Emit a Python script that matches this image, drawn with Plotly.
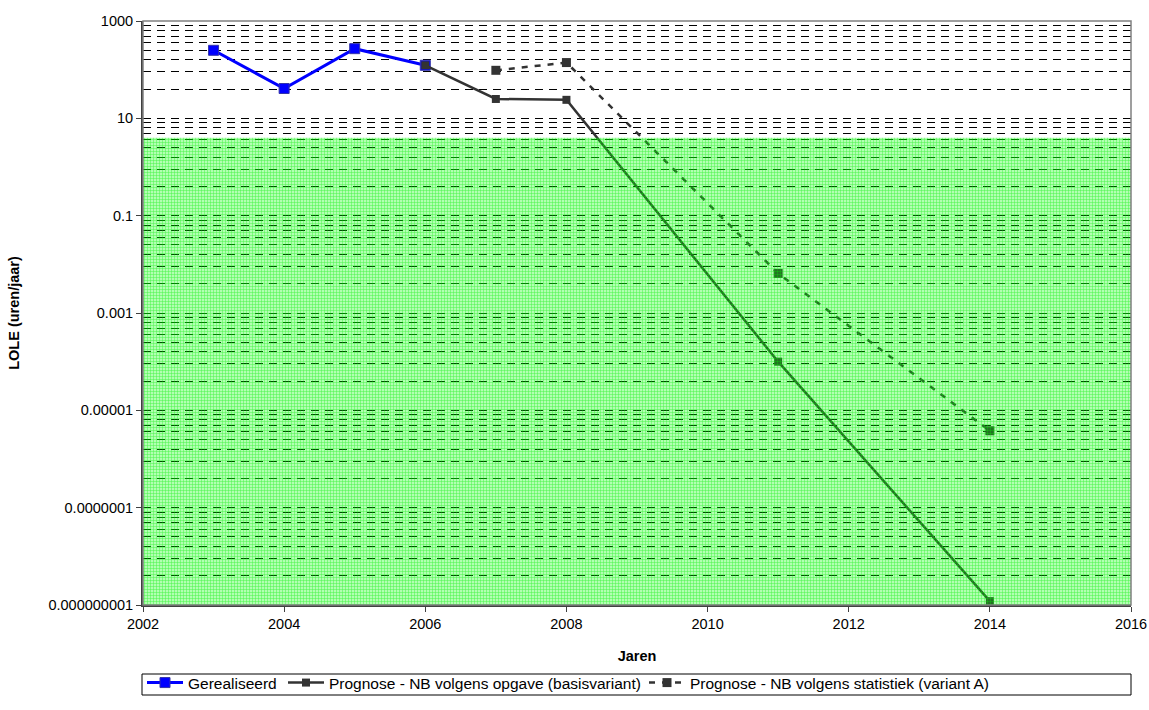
import plotly.graph_objects as go

# ---- data ----
years_real = [2003, 2004, 2005, 2006]
lole_real = [250, 41, 270, 123]

years_basis = [2006, 2007, 2008, 2011, 2014]
lole_basis = [123, 25, 24, 1e-4, 1.2e-9]

years_stat = [2007, 2008, 2011, 2014]
lole_stat = [97, 140, 0.0065, 3.8e-6]

norm_lole = 4            # LOLE norm (green zone up to 4 h/year)
x_range = [2002, 2016]
y_min, y_max = 1e-9, 1000

y_tickvals = [1e-9, 1e-7, 1e-5, 1e-3, 1e-1, 10, 1000]
y_ticktext = ["0.000000001", "0.0000001", "0.00001", "0.001", "0.1", "10", "1000"]
x_tickvals = [2002, 2004, 2006, 2008, 2010, 2012, 2014, 2016]

# minor gridlines (Excel log axis with major unit 100 -> M*k^2)
minor_vals = [m * k ** 2 for m in y_tickvals[:-1] for k in range(2, 10)]

FONT = "Liberation Sans, Arial, sans-serif"
FS = 14.5
LFS = 15.5

fig = go.Figure()

fig.add_trace(go.Scatter(
    x=years_real, y=lole_real, name="Gerealiseerd", mode="lines+markers",
    line=dict(color="#0000ff", width=3),
    marker=dict(symbol="square", size=10, color="#0000ff",
                line=dict(color="#3333aa", width=1)),
    legendwidth=90,
))
fig.add_trace(go.Scatter(
    x=years_basis, y=lole_basis, name="Prognose - NB volgens opgave (basisvariant)",
    mode="lines+markers",
    line=dict(color="#333333", width=2.5),
    marker=dict(symbol="square", size=8, color="#333333"),
    legendwidth=310,
))
fig.add_trace(go.Scatter(
    x=years_stat, y=lole_stat, name="Prognose - NB volgens statistiek (variant A)",
    mode="lines+markers",
    line=dict(color="#333333", width=2.5, dash="6px,7px"),
    marker=dict(symbol="square", size=9, color="#333333"),
    legendwidth=437,
))

# green norm zone overlay
fig.add_trace(go.Scatter(
    x=[x_range[0], x_range[1], x_range[1], x_range[0], x_range[0]],
    y=[y_min, y_min, norm_lole, norm_lole, y_min],
    mode="none", fill="toself",
    fillcolor="rgba(0,255,0,0.3)",
    fillpattern=dict(shape="+", bgcolor="rgba(0,255,0,0.3)", fgcolor="#00ee00",
                     fgopacity=0.6, size=3, solidity=0.3),
    hoverinfo="skip", showlegend=False,
))

PLOT_H = 710 - 21 - 105
PLOT_W = 1149 - 143 - 18

fig.update_layout(
    width=1149, height=710,
    margin=dict(l=143, r=18, t=21, b=105, autoexpand=False),
    paper_bgcolor="white", plot_bgcolor="white",
    font=dict(family=FONT, size=FS, color="black"),
    showlegend=True,
    legend=dict(orientation="h", xref="container", x=142 / 1149, xanchor="left",
                yref="container", y=1 - 666 / 710, yanchor="top",
                bgcolor="rgba(0,0,0,0)", borderwidth=0, font=dict(size=LFS),
                itemwidth=36, tracegroupgap=0),
    shapes=[
        # plot-area border
        dict(type="rect", xref="paper", yref="paper", x0=0, x1=1, y0=0, y1=1,
             line=dict(color="#808080", width=1.5), layer="above"),
        # legend frame
        dict(type="rect", xref="paper", yref="paper",
             x0=-1 / PLOT_W, x1=1.0, y0=-(695 - 605) / PLOT_H, y1=-(674 - 605) / PLOT_H,
             line=dict(color="black", width=1), fillcolor="rgba(0,0,0,0)", layer="above"),
    ],
)

fig.update_xaxes(
    range=x_range, tickvals=x_tickvals, ticks="outside", ticklen=5,
    tickcolor="#404040", showgrid=False, zeroline=False, automargin=False,
    showline=True, linecolor="#404040", linewidth=2,
    title=dict(text="<b>Jaren</b>", font=dict(size=FS), standoff=19),
    tickfont=dict(size=FS),
)
fig.update_yaxes(
    type="log", range=[-9, 3], tickvals=y_tickvals, ticktext=y_ticktext,
    ticks="outside", ticklen=5, tickcolor="#404040", automargin=False,
    showline=True, linecolor="#404040", linewidth=2, zeroline=False,
    showgrid=True, gridcolor="#000000", gridwidth=1, griddash="8px,6px",
    minor=dict(tickmode="array", tickvals=minor_vals, showgrid=True,
               gridcolor="#000000", gridwidth=1, griddash="8px,6px", ticks=""),
    title=dict(text="<b>LOLE (uren/jaar)</b>", font=dict(size=FS), standoff=25),
    tickfont=dict(size=FS),
)

fig.write_html("out.html", post_script="document.body.style.margin='0';",
               config={"displayModeBar": False})
